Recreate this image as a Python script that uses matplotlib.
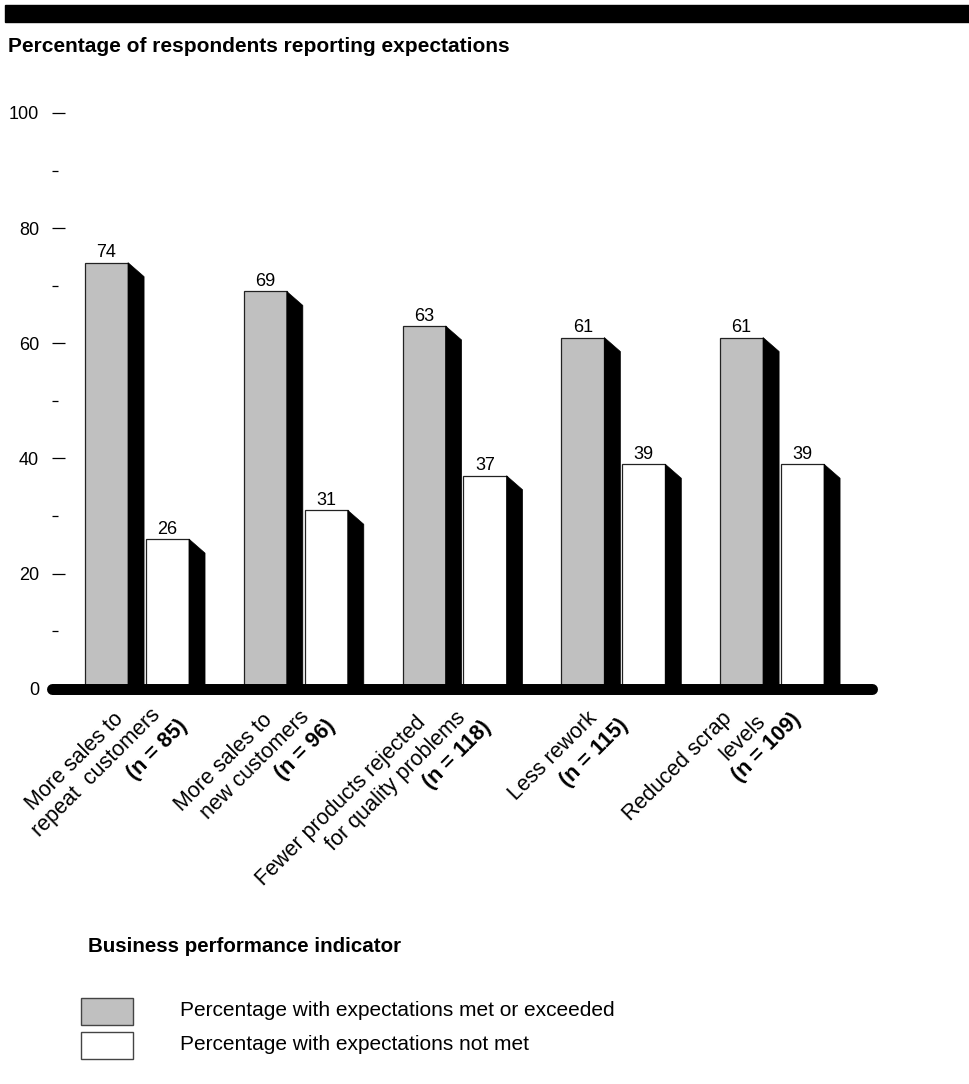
import matplotlib
matplotlib.use("Agg")
import matplotlib.pyplot as plt
from matplotlib.patches import Polygon, Rectangle
from matplotlib.transforms import offset_copy

plt.rcParams["font.family"] = ["Liberation Sans", "DejaVu Sans"]

# data
label_lines = [
    ["More sales to", "repeat  customers"],
    ["More sales to", "new customers"],
    ["Fewer products rejected", "for quality problems"],
    ["Less rework"],
    ["Reduced scrap", "levels"],
]
sample_sizes = [85, 96, 118, 115, 109]
met = [74, 69, 63, 61, 61]
not_met = [26, 31, 37, 39, 39]

# label layout: centre of each text line, in pixels from bar foot (dx right, dy down)
line_offsets = [
    [(-10, 73), (11, 84)],
    [(-20, 74), (11, 76)],
    [(-61, 112), (-7, 92)],
    [(-8, 67)],
    [(-42, 78), (23, 49)],
]
n_offsets = [(72, 61), (62, 61), (55, 66), (33, 64), (47, 59)]

gray = "#c0c0c0"
face_w = 0.271
shade_w = 0.101
shade_drop = 2.43
pair_gap = 0.384

fig = plt.figure(figsize=(9.69, 10.84), dpi=100)
ax = fig.add_axes([52 / 969, 0.322, 833 / 969, 0.6004])
ax.set_xlim(-0.208, 5.039)
ax.set_ylim(-8, 105)


def draw_bar(x, h, color):
    ax.bar(x, h, width=face_w, align="edge", color=color,
           edgecolor="#222222", linewidth=0.9, zorder=2)
    shade = Polygon([(x + face_w, h), (x + face_w + shade_w, h - shade_drop),
                     (x + face_w + shade_w, 0), (x + face_w, 0)],
                    closed=True, facecolor="black", edgecolor="black",
                    linewidth=0.5, zorder=2)
    ax.add_patch(shade)
    ax.annotate(str(h), (x + face_w / 2, h), xytext=(0, 1),
                textcoords="offset points", ha="center", va="bottom",
                fontsize=13)


for i in range(len(met)):
    draw_bar(i, met[i], gray)
    draw_bar(i + pair_gap, not_met[i], "white")

    for txt, (dx, dy) in zip(label_lines[i], line_offsets[i]):
        tr = offset_copy(ax.transData, fig=fig, x=dx, y=-dy, units="dots")
        ax.text(i, 0, txt, transform=tr, rotation=45, rotation_mode="anchor",
                ha="center", va="center", fontsize=15.5, clip_on=False)
    dx, dy = n_offsets[i]
    tr = offset_copy(ax.transData, fig=fig, x=dx, y=-dy, units="dots")
    ax.text(i, 0, "(n = %d)" % sample_sizes[i], transform=tr, rotation=45,
            rotation_mode="anchor", ha="center", va="center", fontsize=15.5,
            fontweight="bold", clip_on=False)

# thick rounded baseline
x0 = ax.get_xlim()[0] + 0.003
x1 = len(met) - 1 + pair_gap + face_w + shade_w + 0.2
ax.plot([x0, x1], [0, 0], color="black", linewidth=7.9,
        solid_capstyle="round", clip_on=False, zorder=3)

for s in ax.spines.values():
    s.set_visible(False)
ax.set_xticks([])
ax.set_yticks(range(0, 101, 20))
ax.set_yticks(range(10, 100, 20), minor=True)
ax.tick_params(axis="y", which="major", direction="in", length=9.4, width=0.9,
               pad=9.4, labelsize=13)
ax.tick_params(axis="y", which="minor", direction="in", length=4.3, width=0.9)

# header band and titles
fig.add_artist(Rectangle((5 / 969, 1 - 22 / 1084), 1, 17 / 1084,
                         transform=fig.transFigure, color="black"))
fig.text(8 / 969, 1 - 47 / 1084, "Percentage of respondents reporting expectations",
         fontsize=15, fontweight="bold", va="center")
fig.text(88 / 969, 1 - 947 / 1084, "Business performance indicator",
         fontsize=14.8, fontweight="bold", va="center")

# legend
for (top, color, text) in [(998, gray, "Percentage with expectations met or exceeded"),
                           (1032, "white", "Percentage with expectations not met")]:
    fig.add_artist(Rectangle((81 / 969, 1 - (top + 27) / 1084), 52 / 969, 27 / 1084,
                             transform=fig.transFigure, facecolor=color,
                             edgecolor="#444444", linewidth=1))
    fig.text(180 / 969, 1 - (top + 13) / 1084, text, fontsize=15, va="center")

fig.savefig("out.png", dpi=100)
